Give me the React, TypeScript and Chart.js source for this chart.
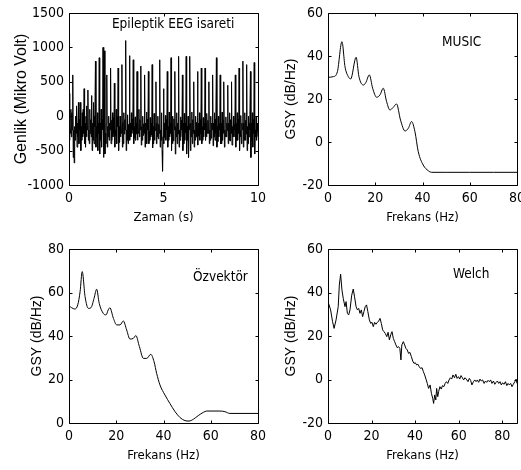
import React, { useEffect, useRef } from "react";
import { Chart, registerables } from "chart.js";

Chart.register(...registerables);

const COND = "'DejaVu Sans Condensed', 'Liberation Sans Narrow', 'Arial Narrow', sans-serif";
const REG = "'Liberation Sans', Arial, sans-serif";

// ---------- EEG (top-left) ----------
const eegValues: number[] = [
  330, -350, -100, -250, 100, -300, 50, -200,
  600, -600, -200, -680, -150, -350, 0, -250,
  150, -450, -100, -300, 200, -400, -50, -200,
  200, -500, -150, -350, 50, -300, 100, -250,
  400, -400, -100, -450, 0, -300, 150, -200,
  380, -350, -200, -400, 100, -250, -50, -300,
  300, -500, -100, -350, 200, -400, 0, -150,
  800, -450, -150, -300, 50, -500, -100, -250,
  850, -550, -100, -350, 100, -450, -50, -200,
  1000, -600, -200, 950, -550, -250, -400, -100,
  600, -450, -150, -300, 0, -350, -100, -200,
  700, -400, -60, -350, 50, -300, -20, -250,
  480, -450, -200, -280, 100, -400, 0, -150,
  700, -500, -150, -380, 0, -300, -100, -250,
  750, -450, -90, -400, 50, -260, -50, -200,
  1100, -500, -200, -350, 20, -400, -120, -250,
  880, -350, -100, -300, 50, -250, -40, -200,
  820, -400, -150, -320, -10, -350, -100, -260,
  650, -350, -80, -250, 100, -300, -50, -200,
  730, -420, -150, -350, 0, -280, -110, -250,
  600, -450, -100, -300, 60, -400, -40, -200,
  650, -400, -220, -350, -20, -300, -100, -270,
  750, -460, -150, -400, 40, -350, -60, -210,
  500, -400, -100, -300, 0, -330, -120, -250,
  820, -450, -200, -350, 50, -500, -800, -300,
  400, -400, -100, -310, 10, -350, -50, -200,
  650, -450, -150, -350, 60, -300, -100, -250,
  850, -500, -100, -400, 0, -360, -40, -200,
  650, -550, -150, -300, 50, -400, -100, -260,
  870, -450, -200, -350, -10, -300, -60, -200,
  600, -500, -100, -400, 40, -350, -100, -240,
  870, -550, -150, -350, 0, -600, -110, -200,
  870, -500, -100, -300, 60, -400, -50, -250,
  500, -450, -200, -350, 0, -300, -90, -200,
  650, -420, -100, -290, 50, -350, -50, -260,
  700, -400, -150, -350, -20, -300, -100, -200,
  700, -350, -100, -300, 40, -250, -60, -250,
  500, -400, -200, -350, 0, -320, -100, -200,
  600, -430, -100, -300, 50, -350, -40, -250,
  850, -450, -150, -370, 0, -300, -110, -200,
  600, -400, -100, -400, 60, -350, -50, -250,
  500, -450, -200, -300, -10, -300, -100, -210,
  450, -400, -100, -350, 50, -360, -50, -250,
  500, -420, -150, -300, 0, -300, -120, -200,
  600, -450, -100, -350, 50, -350, -40, -250,
  700, -500, -200, -300, 10, -400, -100, -200,
  800, -450, -100, -350, 50, -350, -60, -260,
  750, -500, -150, -400, 0, -300, -100, -200,
  650, -600, -100, -350, 50, -450, -50, -250,
  780, -550, -200, -300, 0, -350, -100, -200,
  -300,
];
const eegTimes: number[] = eegValues.map((_, i) => (i * 10) / (eegValues.length - 1));
const eegXTicks = [0, 5, 10];
const eegYTicks = [-1000, -500, 0, 500, 1000, 1500];

// ---------- MUSIC (top-right) ----------
const musicFreq = [0, 2.3, 4, 5.9, 7.2, 8.6, 9.6, 11.9, 13.1, 15, 16, 17.5, 18.9, 20.6, 22, 23.4, 24.8, 26.2, 27.6, 29, 30.7, 32.6, 34, 35.4, 36.8, 38.2, 40.3, 42.5, 43.9, 50, 60, 70, 80];
const musicDb = [30.1, 30.4, 32.8, 46.7, 35, 30.4, 29.3, 39.4, 30.4, 26.5, 27.6, 31.2, 25, 20.8, 21.9, 25, 18.8, 14.9, 16.1, 17.7, 10.2, 5.1, 6.4, 9.5, 4.8, -4.5, -10.7, -13.4, -14.1, -14.1, -14.1, -14.1, -14.1];
const musicXTicks = [0, 20, 40, 60, 80];
const musicYTicks = [-20, 0, 20, 40, 60];

// ---------- Eigenvector (bottom-left) ----------
const eigFreq = [0, 1.1, 2.5, 3.7, 4.7, 5.6, 6.8, 8.2, 9.3, 10.6, 11.7, 12.8, 14.5, 15.7, 16.6, 17.3, 18.8, 20.2, 21.6, 23, 24.4, 25.8, 27.2, 28.3, 29.8, 31.5, 32.9, 34.6, 36, 37.1, 38.5, 40.6, 42.7, 44.9, 47, 49.1, 50.8, 52.6, 54.7, 56.9, 58.3, 63.9, 66, 68.1, 80];
const eigDb = [53.9, 53, 52.4, 54.3, 60.4, 69.6, 58.1, 52.7, 53, 57.3, 61.5, 55, 50.4, 49.7, 52, 53, 48.1, 45.1, 45.1, 46.9, 42.8, 38.6, 38.9, 40.2, 35.1, 29.7, 29.7, 31.6, 28.2, 22.8, 17.5, 12.9, 9, 5.2, 2.5, 1.1, 0.9, 1.7, 3.4, 4.9, 5.5, 5.5, 5.2, 4.4, 4.4];
const eigXTicks = [0, 20, 40, 60, 80];
const eigYTicks = [0, 20, 40, 60, 80];

// ---------- Welch (bottom-right) ----------
const welchFreq = [
  0, 1.2, 2.1, 2.8, 3.7, 4.7, 5.2, 5.8, 6.4, 7,
  7.8, 8.3, 8.9, 9.5, 10.1, 10.9, 11.6, 12.2, 12.9, 13.5,
  14.1, 14.7, 15.3, 15.9, 16.5, 17.1, 17.7, 18.3, 19, 19.6,
  20.2, 20.8, 21.4, 22, 22.7, 23.3, 23.9, 24.5, 25.1, 25.7,
  26.3, 27, 27.6, 28.2, 28.8, 29.4, 30, 30.6, 31.2, 31.8,
  32.4, 33, 33.5, 33.9, 34.6, 35.2, 35.8, 36.4, 37, 37.6,
  38.3, 38.9, 39.5, 40.1, 40.7, 41.3, 41.9, 42.5, 43.2, 43.8,
  44.4, 45, 45.6, 46.2, 46.9, 47.5, 48.1, 48.5, 49, 49.5,
  49.9, 50.4, 50.8, 51.4, 52, 52.6, 53.2, 53.8, 54.4, 55,
  55.6, 56.2, 56.8, 57.4, 58.1, 58.7, 59.3, 59.9, 60.5, 61.1,
  61.7, 62.3, 62.9, 63.5, 64.3, 64.9, 65.5, 66.1, 66.8, 67.4,
  68, 68.6, 69.2, 69.8, 70.4, 71, 71.7, 72.3, 72.9, 73.5,
  74.1, 74.7, 75.3, 76, 76.6, 77.2, 77.8, 78.4, 79, 79.6,
  80.2, 80.8, 81.5, 82.1, 82.7, 83.3, 83.9, 84.5, 85.1, 85.8,
  86.4, 86.8,
];
const welchDb = [
  35.8, 32, 26.6, 23.5, 27.4, 33.5, 43.4, 48.4, 41.2, 37.3,
  33.5, 35.8, 30.4, 29.7, 32, 38.8, 41.6, 38, 33.5, 32,
  32.7, 30.4, 32, 28.9, 31.2, 33.5, 34.3, 31.2, 27.4, 25.8,
  26.3, 24.3, 26.3, 25.4, 26.3, 26.9, 28.1, 25.8, 22.8, 22,
  21.2, 19.7, 21.7, 18.2, 20.5, 22, 18.9, 17.4, 15.9, 14.6,
  15.1, 14.3, 9, 15.9, 17.4, 15.9, 14.3, 13.6, 12, 12.5,
  10.5, 8.5, 7.4, 7.7, 6.7, 7, 5.9, 5.1, 5.4, 3.6,
  2.1, 0.2, -1.8, -4.1, -2.5, -6.4, -8.7, -11, -7.1, -9.4,
  -4.1, -7.9, -5.6, -3.3, -4.4, -2.8, -3.3, -1.8, -1, -1.8,
  -0.2, 0.8, 0.2, 2.1, 0.8, 2.4, 0.5, 1.3, 0.2, 1.8,
  0.8, -0.2, 0.8, 0.2, -1, 0.5, -0.4, -2.5, -1, -0.2,
  -1, -0.2, -1.3, 0.2, -0.7, -0.2, -1.8, -0.7, -1.3, -0.4,
  -1, -0.2, -1.8, -0.7, -2.2, -1.3, -0.7, -1.8, -1, -2.5,
  -1.5, -2.2, -1, -2.8, -1.8, -2.5, -1.8, -3.3, -2.2, -1,
  0.2, -1.8,
];
const welchXTicks = [0, 20, 40, 60, 80];
const welchYTicks = [-20, 0, 20, 40, 60];

interface PanelCfg {
  left: number; top: number; width: number; height: number;
  area: { left: number; top: number; right: number; bottom: number };
  xs: number[]; ys: number[];
  xMin: number; xMax: number; yMin: number; yMax: number;
  xTicks: number[]; yTicks: number[];
  xTitle: string; yTitle: string; yTitleSize: number;
  xTitlePad: number; yTitlePad: number;
  note: string; noteX: number; noteY: number;
  smooth: boolean;
}

function Panel({ cfg }: { cfg: PanelCfg }) {
  const ref = useRef<HTMLCanvasElement>(null);
  useEffect(() => {
    const c = cfg;
    const frame = {
      id: "frame",
      afterDatasetsDraw(chart: any) {
        const { ctx, chartArea: a, scales } = chart;
        const sx = scales.x;
        const sy = scales.y;
        ctx.save();
        ctx.strokeStyle = "#000";
        ctx.lineWidth = 1;
        ctx.beginPath();
        ctx.rect(a.left + 0.5, a.top + 0.5, a.right - a.left, a.bottom - a.top);
        const tl = 3;
        c.xTicks.forEach((v) => {
          const p = Math.round(sx.getPixelForValue(v)) + 0.5;
          ctx.moveTo(p, a.bottom + 0.5);
          ctx.lineTo(p, a.bottom + 0.5 - tl);
          ctx.moveTo(p, a.top + 0.5);
          ctx.lineTo(p, a.top + 0.5 + tl);
        });
        c.yTicks.forEach((v) => {
          const p = Math.round(sy.getPixelForValue(v)) + 0.5;
          ctx.moveTo(a.left + 0.5, p);
          ctx.lineTo(a.left + 0.5 + tl, p);
          ctx.moveTo(a.right + 0.5, p);
          ctx.lineTo(a.right + 0.5 - tl, p);
        });
        ctx.stroke();
        ctx.fillStyle = "#000";
        ctx.font = `13.5px ${COND}`;
        ctx.textBaseline = "middle";
        ctx.textAlign = "left";
        ctx.fillText(c.note, sx.getPixelForValue(c.noteX), sy.getPixelForValue(c.noteY));
        ctx.restore();
      },
    };
    const chart = new Chart(ref.current as HTMLCanvasElement, {
      type: "line",
      data: {
        datasets: [
          {
            data: c.xs.map((x, i) => ({ x, y: c.ys[i] })),
            borderColor: "#000",
            borderWidth: 1,
            pointRadius: 0,
            fill: false,
            tension: c.smooth ? 0.4 : 0,
            cubicInterpolationMode: c.smooth ? "monotone" : "default",
          } as any,
        ],
      },
      options: {
        animation: false,
        responsive: false,
        events: [],
        layout: { padding: { left: 0, top: c.area.top, right: c.width - c.area.right, bottom: 0 } },
        plugins: { legend: { display: false }, tooltip: { enabled: false } },
        scales: {
          x: {
            type: "linear",
            position: "bottom",
            min: c.xMin,
            max: c.xMax,
            grid: { display: false, drawTicks: false },
            border: { display: false },
            ticks: {
              color: "#000",
              font: { family: COND, size: 14 },
              padding: 5,
              maxRotation: 0,
              autoSkip: false,
              callback: (v: any) => String(v),
            },
            afterBuildTicks: (s: any) => {
              s.ticks = c.xTicks.map((v) => ({ value: v }));
            },
            afterFit: (s: any) => {
              s.height = c.height - c.area.bottom;
              s.paddingLeft = 0;
              s.paddingRight = 0;
            },
            title: {
              display: true,
              text: c.xTitle,
              color: "#000",
              font: { family: COND, size: 13 },
              padding: { top: 0, bottom: c.xTitlePad },
            },
          },
          y: {
            type: "linear",
            position: "left",
            min: c.yMin,
            max: c.yMax,
            grid: { display: false, drawTicks: false },
            border: { display: false },
            ticks: {
              color: "#000",
              font: { family: COND, size: 14 },
              padding: 5,
              autoSkip: false,
              callback: (v: any) => String(v),
            },
            afterBuildTicks: (s: any) => {
              s.ticks = c.yTicks.map((v) => ({ value: v }));
            },
            afterFit: (s: any) => {
              s.width = c.area.left;
              s.paddingTop = 0;
              s.paddingBottom = 0;
            },
            title: {
              display: true,
              text: c.yTitle,
              color: "#000",
              font: { family: REG, size: c.yTitleSize },
              padding: { top: c.yTitlePad, bottom: 0 },
            },
          },
        },
      },
      plugins: [frame],
    });
    return () => chart.destroy();
  }, []);
  return (
    <canvas
      ref={ref}
      width={cfg.width}
      height={cfg.height}
      style={{ position: "absolute", left: cfg.left, top: cfg.top, width: cfg.width, height: cfg.height }}
    />
  );
}

const panels: PanelCfg[] = [
  {
    left: 0, top: 0, width: 270, height: 235,
    area: { left: 69, top: 13, right: 258, bottom: 185 },
    xs: eegTimes, ys: eegValues,
    xMin: 0, xMax: 10, yMin: -1000, yMax: 1500,
    xTicks: eegXTicks, yTicks: eegYTicks,
    xTitle: "Zaman (s)", yTitle: "Genlik (Mikro Volt)", yTitleSize: 16,
    xTitlePad: 10, yTitlePad: 11.5,
    note: "Epileptik EEG isareti", noteX: 2.27, noteY: 1326,
    smooth: false,
  },
  {
    left: 262, top: 0, width: 259, height: 235,
    area: { left: 66, top: 13, right: 255, bottom: 185 },
    xs: musicFreq, ys: musicDb,
    xMin: 0, xMax: 80, yMin: -20, yMax: 60,
    xTicks: musicXTicks, yTicks: musicYTicks,
    xTitle: "Frekans (Hz)", yTitle: "GSY (dB/Hz)", yTitleSize: 14,
    xTitlePad: 10, yTitlePad: 21,
    note: "MUSIC", noteX: 48.3, noteY: 46.5,
    smooth: true,
  },
  {
    left: 0, top: 235, width: 270, height: 235,
    area: { left: 69, top: 14, right: 258, bottom: 188 },
    xs: eigFreq, ys: eigDb,
    xMin: 0, xMax: 80, yMin: 0, yMax: 80,
    xTicks: eigXTicks, yTicks: eigYTicks,
    xTitle: "Frekans (Hz)", yTitle: "GSY (dB/Hz)", yTitleSize: 14,
    xTitlePad: 7, yTitlePad: 29,
    note: "Özvektör", noteX: 52.5, noteY: 66.7,
    smooth: true,
  },
  {
    left: 262, top: 235, width: 259, height: 235,
    area: { left: 66, top: 14, right: 255, bottom: 188 },
    xs: welchFreq, ys: welchDb,
    xMin: 0, xMax: 86.8, yMin: -20, yMax: 60,
    xTicks: welchXTicks, yTicks: welchYTicks,
    xTitle: "Frekans (Hz)", yTitle: "GSY (dB/Hz)", yTitleSize: 14,
    xTitlePad: 7, yTitlePad: 21,
    note: "Welch", noteX: 57.4, noteY: 48.5,
    smooth: false,
  },
];

export default function App() {
  return (
    <div style={{ position: "absolute", left: 0, top: 0, width: 521, height: 470, background: "#fff", overflow: "hidden" }}>
      {panels.map((p, i) => (
        <Panel key={i} cfg={p} />
      ))}
    </div>
  );
}
